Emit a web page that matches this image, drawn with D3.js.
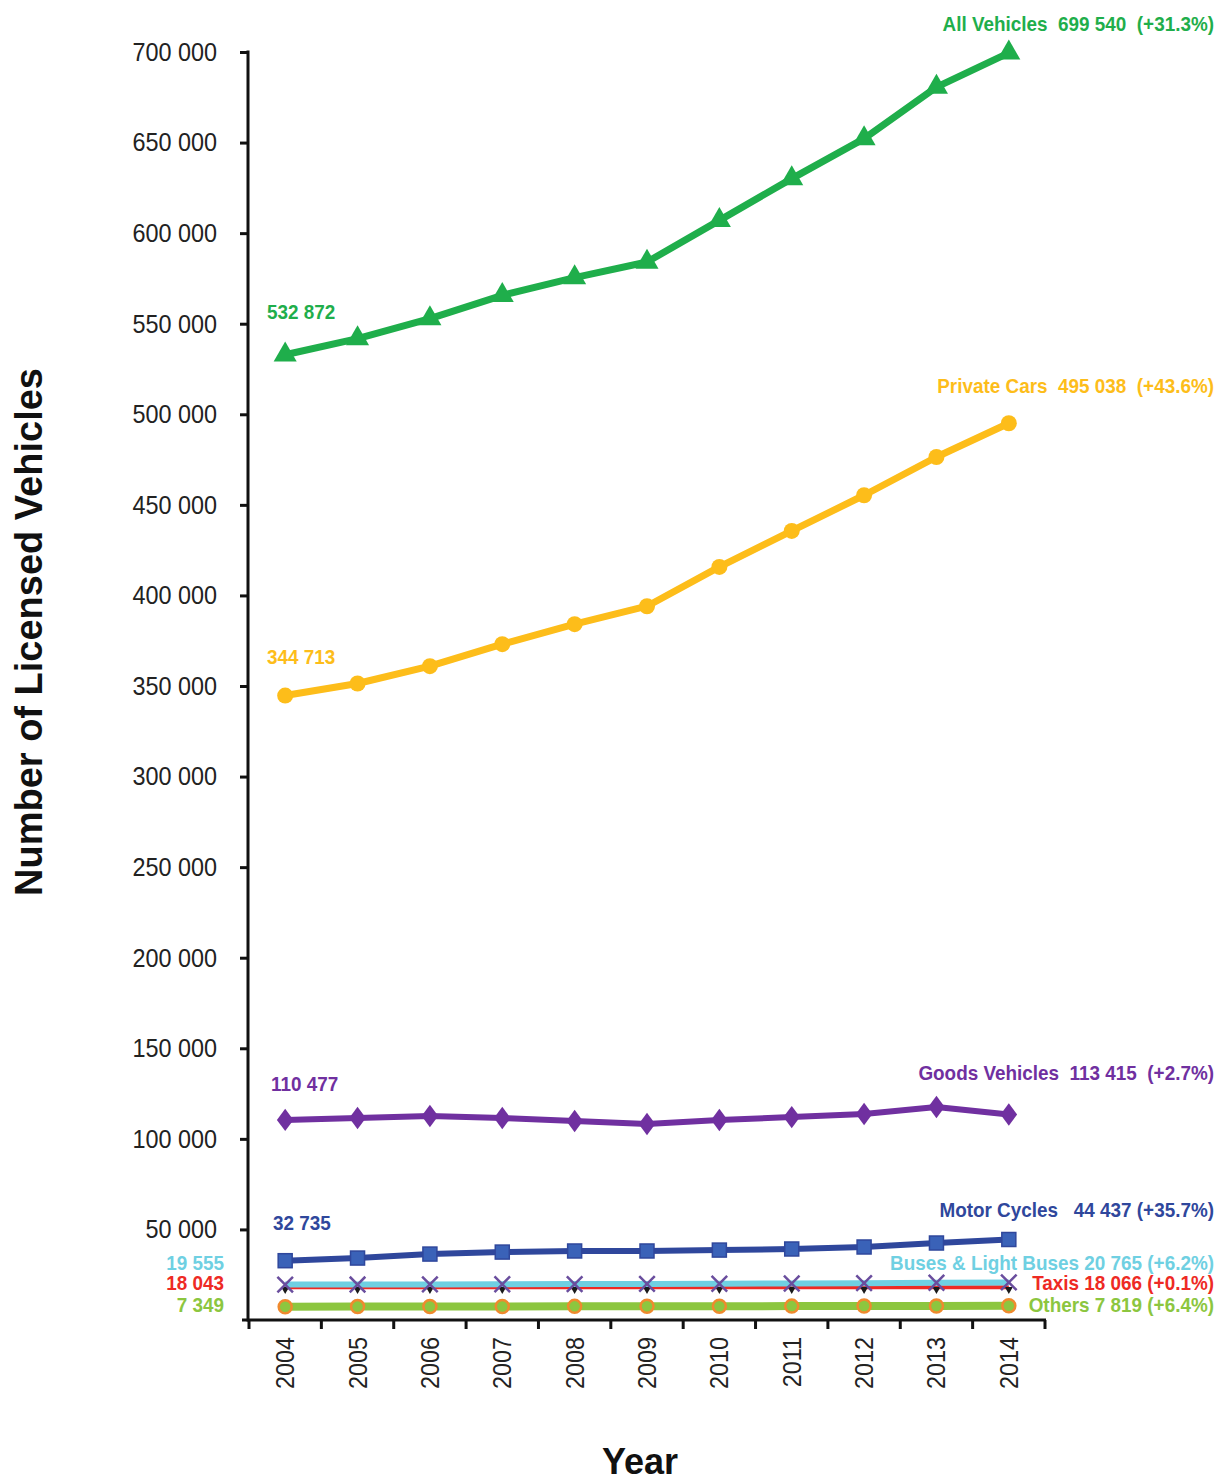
<!DOCTYPE html>
<html>
<head>
<meta charset="utf-8">
<script src="https://cdn.jsdelivr.net/npm/d3@7"></script>
<style>
  html, body { margin: 0; padding: 0; background: #fff; }
  svg text { white-space: pre; }
</style>
</head>
<body>
<svg id="chart" width="1225" height="1481"></svg>
<script>
// Licensed vehicles by type, 2004–2014
const years = [2004, 2005, 2006, 2007, 2008, 2009, 2010, 2011, 2012, 2013, 2014];

const allVehicles   = [532872, 541780, 552800, 565670, 575440, 584050, 607060, 630080, 652150, 680630, 699540];
const privateCars   = [344713, 351380, 360930, 373070, 384110, 394040, 415740, 435610, 455300, 476430, 495038];
const goodsVehicles = [110477, 111480, 112580, 111480, 109800, 108170, 110400, 112000, 113700, 117550, 113415];
const motorCycles   = [32735, 34200, 36400, 37500, 38100, 38100, 38600, 39200, 40300, 42500, 44437];
const buses         = [19555, 19580, 19640, 19730, 19810, 19900, 20020, 20150, 20330, 20560, 20765];
const taxis         = [18043, 18051, 18046, 18055, 18049, 18058, 18052, 18061, 18057, 18063, 18066];
const others        = [7349, 7395, 7440, 7480, 7530, 7570, 7620, 7660, 7715, 7770, 7819];

const yTickValues = [50000, 100000, 150000, 200000, 250000, 300000, 350000, 400000, 450000, 500000, 550000, 600000, 650000, 700000];

const startLabels = ["532 872", "344 713", "110 477", "32 735", "19 555", "18 043", "7 349"];
const endLabels = [
  "All Vehicles  699 540  (+31.3%)",
  "Private Cars  495 038  (+43.6%)",
  "Goods Vehicles  113 415  (+2.7%)",
  "Motor Cycles   44 437 (+35.7%)",
  "Buses & Light Buses 20 765 (+6.2%)",
  "Taxis 18 066 (+0.1%)",
  "Others 7 819 (+6.4%)"
];

const svg = d3.select("#chart");
const font = "'Liberation Sans', Arial, Helvetica, sans-serif";
const condense = 0.9;        // horizontal squeeze for the condensed axis lettering
const labelCondense = 0.9;   // same for the series value labels

const x = d3.scaleBand().domain(years).range([249, 1045]).padding(0);
const y = d3.scaleLinear().domain([0, 700000]).range([1320, 52]);
const cx = d => x(d) + x.bandwidth() / 2;

const fmt = v => d3.format(",")(v).replace(/,/g, " ");

// Y axis
const yAxis = svg.append("g")
  .attr("transform", "translate(248,0)")
  .call(d3.axisLeft(y).tickValues(yTickValues).tickSize(8).tickPadding(23).tickFormat(fmt));
yAxis.select(".domain").remove();
yAxis.selectAll(".tick line").attr("stroke", "#111").attr("stroke-width", 3);
yAxis.selectAll(".tick text")
  .attr("x", -31 / condense)
  .attr("transform", `scale(${condense},1)`)
  .attr("font-family", font).attr("font-size", 26).attr("fill", "#222");
svg.append("line")
  .attr("x1", 248).attr("x2", 248).attr("y1", y(700000) - 1.5).attr("y2", y(0) + 1.5)
  .attr("stroke", "#111").attr("stroke-width", 3);

// X axis
svg.append("line")
  .attr("x1", 242).attr("x2", 1046).attr("y1", y(0)).attr("y2", y(0))
  .attr("stroke", "#111").attr("stroke-width", 3);
const boundaries = years.map(d => x(d)).concat([x(years[years.length - 1]) + x.bandwidth()]);
svg.append("g").selectAll("line").data(boundaries).join("line")
  .attr("x1", d => d).attr("x2", d => d)
  .attr("y1", y(0)).attr("y2", y(0) + 9)
  .attr("stroke", "#111").attr("stroke-width", 3);
svg.append("g").selectAll("text").data(years).join("text")
  .attr("transform", d => `translate(${cx(d) + 9},1337) rotate(-90) scale(${condense},1)`)
  .attr("text-anchor", "end")
  .attr("font-family", font).attr("font-size", 26).attr("fill", "#222")
  .text(d => d);

// Axis titles
svg.append("text")
  .attr("transform", "translate(42,632) rotate(-90)")
  .attr("text-anchor", "middle")
  .attr("font-family", font).attr("font-weight", "bold").attr("font-size", 38).attr("fill", "#111")
  .text("Number of Licensed Vehicles");
svg.append("text")
  .attr("x", 640).attr("y", 1474)
  .attr("text-anchor", "middle")
  .attr("font-family", font).attr("font-weight", "bold").attr("font-size", 36).attr("fill", "#111")
  .text("Year");

// Series lines
const series = [
  { values: others,        color: "#8cc63f", width: 8 },
  { values: taxis,         color: "#ee2a24", width: 4 },
  { values: buses,         color: "#6fd0e2", width: 6 },
  { values: motorCycles,   color: "#2f479c", width: 6 },
  { values: goodsVehicles, color: "#7030a0", width: 6 },
  { values: privateCars,   color: "#fdbd1a", width: 7 },
  { values: allVehicles,   color: "#1fae4b", width: 7 }
];

const line = d3.line().x((d, i) => cx(years[i])).y(d => y(d));

series.forEach(s => {
  svg.append("path")
    .datum(s.values)
    .attr("d", line)
    .attr("fill", "none")
    .attr("stroke", s.color)
    .attr("stroke-width", s.width)
    .attr("stroke-linejoin", "round");
});

const pts = vals => vals.map((v, i) => ({ x: cx(years[i]), y: y(v) }));

// Markers
svg.append("g").selectAll("circle").data(pts(others)).join("circle")
  .attr("cx", d => d.x).attr("cy", d => d.y).attr("r", 6.5)
  .attr("fill", "#8cc63f").attr("stroke", "#ef8a2e").attr("stroke-width", 2.5);

svg.append("g").selectAll("path").data(pts(taxis)).join("path")
  .attr("d", d3.symbol(d3.symbolTriangle, 28))
  .attr("transform", d => `translate(${d.x},${d.y + 2}) rotate(180)`)
  .attr("fill", "#1a1a1a");

svg.append("g").selectAll("path").data(pts(buses)).join("path")
  .attr("d", d3.symbol(d3.symbolX, 160))
  .attr("transform", d => `translate(${d.x},${d.y})`)
  .attr("fill", "none").attr("stroke", "#6a4e9e").attr("stroke-width", 2.5);

svg.append("g").selectAll("rect").data(pts(motorCycles)).join("rect")
  .attr("x", d => d.x - 7).attr("y", d => d.y - 7)
  .attr("width", 14).attr("height", 14)
  .attr("fill", "#3a62b8").attr("stroke", "#2f479c").attr("stroke-width", 1.5);

svg.append("g").selectAll("path").data(pts(goodsVehicles)).join("path")
  .attr("d", d3.symbol(d3.symbolDiamond, 180))
  .attr("transform", d => `translate(${d.x},${d.y}) scale(1.15,0.9)`)
  .attr("fill", "#7030a0");

svg.append("g").selectAll("circle").data(pts(privateCars)).join("circle")
  .attr("cx", d => d.x).attr("cy", d => d.y).attr("r", 8)
  .attr("fill", "#fdbd1a");

svg.append("g").selectAll("path").data(pts(allVehicles)).join("path")
  .attr("d", d3.symbol(d3.symbolTriangle, 230))
  .attr("transform", d => `translate(${d.x},${d.y})`)
  .attr("fill", "#1fae4b");

// Value labels
function addLabel(txt, lx, ly, color, anchor) {
  svg.append("text")
    .attr("transform", `translate(${lx},${ly}) scale(${labelCondense},1)`)
    .attr("text-anchor", anchor)
    .attr("font-family", font).attr("font-weight", "bold")
    .attr("font-size", 21).attr("fill", color)
    .text(txt);
}

const labelColors = ["#1fae4b", "#fdbd1a", "#7030a0", "#2f479c", "#6fd0e2", "#ee2a24", "#8cc63f"];
const startPos = [[267, 319, "start"], [267, 664, "start"], [271, 1091, "start"], [273, 1230, "start"],
                  [224, 1270, "end"], [224, 1290, "end"], [224, 1312, "end"]];
const endY = [31, 393, 1080, 1217, 1270, 1290, 1312];

startLabels.forEach((t, i) => addLabel(t, startPos[i][0], startPos[i][1], labelColors[i], startPos[i][2]));
endLabels.forEach((t, i) => addLabel(t, 1214, endY[i], labelColors[i], "end"));
</script>
</body>
</html>
